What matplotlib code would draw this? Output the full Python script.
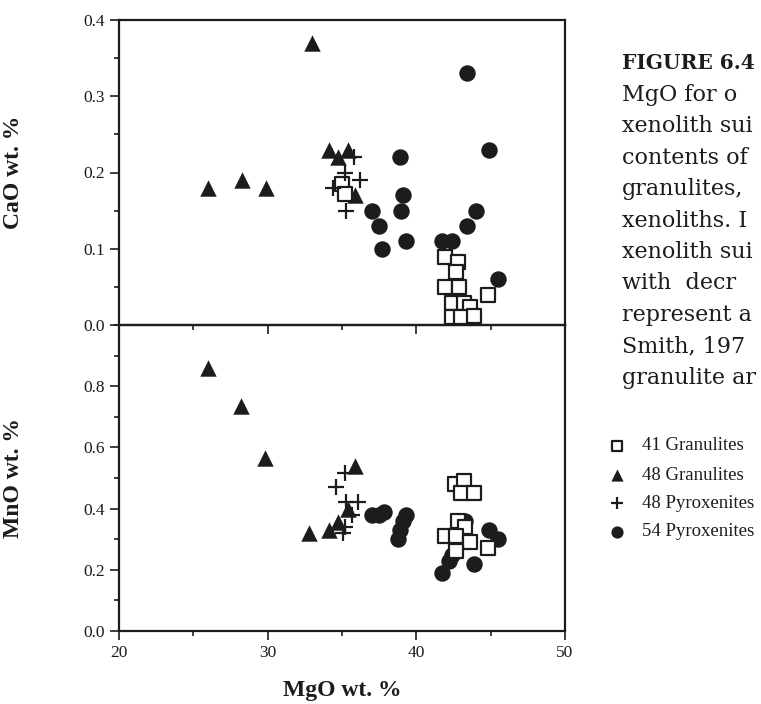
import matplotlib
matplotlib.use("Agg")
import matplotlib.pyplot as plt
from matplotlib.ticker import MultipleLocator

plt.rcParams["font.family"] = ["Liberation Serif", "DejaVu Serif"]

# 41 Granulites (open squares)
gran41_mgo_ca = [35.0, 35.2, 41.9, 42.8, 42.7, 41.9, 42.9, 44.8, 42.4, 43.2, 43.6, 42.4, 43.0, 43.9]
gran41_cao = [0.185, 0.172, 0.089, 0.083, 0.070, 0.050, 0.050, 0.040, 0.029, 0.029, 0.023, 0.010, 0.010, 0.012]
gran41_mgo_mn = [42.6, 43.2, 43.0, 43.9, 42.8, 43.3, 41.9, 42.7, 43.6, 42.7, 44.8]
gran41_mno = [0.48, 0.49, 0.45, 0.45, 0.36, 0.34, 0.31, 0.31, 0.29, 0.26, 0.27]

# 48 Granulites (filled triangles)
gran48_mgo_ca = [26.0, 28.3, 29.9, 33.0, 34.1, 34.7, 35.4, 35.9]
gran48_cao = [0.18, 0.19, 0.18, 0.37, 0.23, 0.22, 0.23, 0.17]
gran48_mgo_mn = [26.0, 28.2, 29.8, 32.8, 34.1, 34.7, 35.4, 35.9]
gran48_mno = [0.86, 0.735, 0.565, 0.32, 0.33, 0.356, 0.40, 0.54]

# 48 Pyroxenites (plus)
pyx48_mgo_ca = [35.8, 35.2, 36.2, 34.4, 35.3]
pyx48_cao = [0.22, 0.20, 0.19, 0.18, 0.15]
pyx48_mgo_mn = [35.2, 34.6, 35.3, 36.1, 35.7, 35.2, 35.1]
pyx48_mno = [0.515, 0.47, 0.42, 0.42, 0.38, 0.34, 0.32]

# 54 Pyroxenites (filled circles)
pyx54_mgo_ca = [37.0, 37.5, 37.7, 38.9, 39.0, 39.1, 39.3, 41.7, 42.4, 43.4, 43.4, 44.0, 44.9, 45.5, 42.8]
pyx54_cao = [0.15, 0.13, 0.10, 0.22, 0.15, 0.17, 0.11, 0.11, 0.11, 0.33, 0.13, 0.15, 0.23, 0.06, 0.025]
pyx54_mgo_mn = [37.0, 37.5, 37.8, 39.3, 39.1, 38.9, 38.8, 41.7, 42.2, 42.4, 43.3, 43.9, 44.9, 45.5]
pyx54_mno = [0.38, 0.38, 0.39, 0.38, 0.36, 0.33, 0.30, 0.19, 0.23, 0.25, 0.36, 0.22, 0.33, 0.30]

legend_labels = ["41 Granulites", "48 Granulites", "48 Pyroxenites", "54 Pyroxenites"]
caption_lines = ["MgO for o", "xenolith sui", "contents of", "granulites,",
                 "xenoliths. I", "xenolith sui", "with  decr", "represent a",
                 "Smith, 197", "granulite ar"]

W, H = 761, 704
fig = plt.figure(figsize=(W / 100, H / 100), dpi=100)

left, right = 119, 565
top, mid, bottom = 20, 325, 631
ax1 = fig.add_axes([left / W, 1 - mid / H, (right - left) / W, (mid - top) / H])
ax2 = fig.add_axes([left / W, 1 - bottom / H, (right - left) / W, (bottom - mid) / H])

ink = "#1c1c1c"
styles = [
    dict(marker="s", s=95, facecolors="white", edgecolors=ink, linewidths=1.6),
    dict(marker="^", s=140, color=ink, linewidths=0),
    dict(marker="+", s=130, color=ink, linewidths=1.6),
    dict(marker="o", s=140, color=ink, linewidths=0),
]

ax1.scatter(pyx54_mgo_ca, pyx54_cao, zorder=3, **styles[3])
ax1.scatter(gran48_mgo_ca, gran48_cao, zorder=3, **styles[1])
ax1.scatter(gran41_mgo_ca, gran41_cao, zorder=4, **styles[0])
ax1.scatter(pyx48_mgo_ca, pyx48_cao, zorder=5, **styles[2])

ax2.scatter(pyx54_mgo_mn, pyx54_mno, zorder=3, **styles[3])
ax2.scatter(gran48_mgo_mn, gran48_mno, zorder=3, **styles[1])
ax2.scatter(gran41_mgo_mn, gran41_mno, zorder=4, **styles[0])
ax2.scatter(pyx48_mgo_mn, pyx48_mno, zorder=5, **styles[2])

for ax in (ax1, ax2):
    ax.set_xlim(20, 50)
    ax.xaxis.set_major_locator(MultipleLocator(10))
    ax.xaxis.set_minor_locator(MultipleLocator(5))
    for s in ax.spines.values():
        s.set_linewidth(1.6)
        s.set_color(ink)
    ax.tick_params(which="major", direction="out", length=6.5, width=1.2,
                   color=ink, labelsize=12.5, labelcolor=ink)
    ax.tick_params(which="minor", direction="out", length=3.5, width=1.2, color=ink)
    ax.tick_params(top=False, right=False, which="both")
    ax.set_facecolor("none")

ax1.set_ylim(0, 0.4)
ax1.yaxis.set_minor_locator(MultipleLocator(0.05))
ax1.tick_params(labelbottom=False)
ax1.set_yticks([0.0, 0.1, 0.2, 0.3, 0.4])
ax1.set_yticklabels(["0.0", "0.1", "0.2", "0.3", "0.4"])

ax2.set_ylim(0, 1.0)
ax2.set_yticks([0.0, 0.2, 0.4, 0.6, 0.8])
ax2.set_yticklabels(["0.0", "0.2", "0.4", "0.6", "0.8"])
ax2.yaxis.set_minor_locator(MultipleLocator(0.1))
ax2.set_xticks([20, 30, 40, 50])

ax1.set_ylabel("CaO wt. %", fontsize=17, fontweight="bold", color=ink)
ax1.yaxis.set_label_coords(-0.213, 0.5)
ax2.set_ylabel("MnO wt. %", fontsize=17, fontweight="bold", color=ink)
ax2.yaxis.set_label_coords(-0.213, 0.5)
ax2.set_xlabel("MgO wt. %", fontsize=17, fontweight="bold", color=ink, labelpad=14)

# caption text, cut off by the right edge of the page
cap_x = 622 / W
fig.text(cap_x, 1 - 63 / H, "FIGURE 6.4", fontsize=14.5, fontweight="bold",
         family="DejaVu Serif", color=ink, va="center", ha="left")
for i, line in enumerate(caption_lines):
    fig.text(cap_x, 1 - (95 + 31.4 * i) / H, line, fontsize=16,
             family="DejaVu Serif", color=ink, va="center", ha="left")

# legend drawn as a small key below the caption
leg_y = [446, 475, 503, 532]
key = fig.add_axes([0, 0, 1, 1], facecolor="none")
key.set_xlim(0, W)
key.set_ylim(H, 0)
key.axis("off")
for st, lab, yy in zip(styles, legend_labels, leg_y):
    st2 = dict(st)
    st2["s"] = st["s"] * 0.55
    key.scatter([617], [yy], **st2)
    key.text(642, yy, lab, fontsize=13.5, color=ink, va="center", ha="left")

fig.savefig("out.png", dpi=100, facecolor="white")
